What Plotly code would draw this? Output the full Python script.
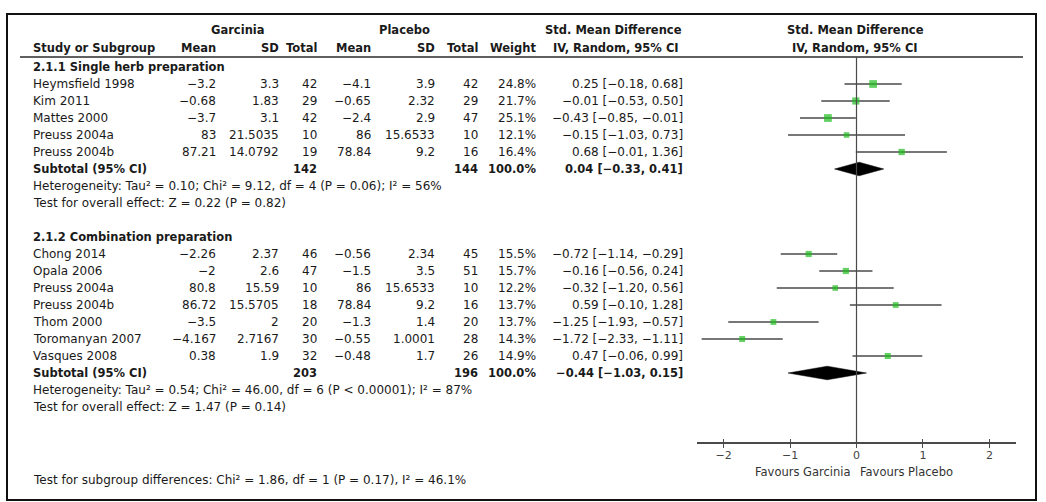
import plotly.graph_objects as go

W, H = 1046, 502

# ---------------- data ----------------
single_study = ["Heymsfield 1998", "Kim 2011", "Mattes 2000", "Preuss 2004a", "Preuss 2004b"]
single_g_mean = [-3.2, -0.68, -3.7, 83, 87.21]
single_g_sd = [3.3, 1.83, 3.1, 21.5035, 14.0792]
single_g_n = [42, 29, 42, 10, 19]
single_p_mean = [-4.1, -0.65, -2.4, 86, 78.84]
single_p_sd = [3.9, 2.32, 2.9, 15.6533, 9.2]
single_p_n = [42, 29, 47, 10, 16]
single_weight = [24.8, 21.7, 25.1, 12.1, 16.4]
single_smd = [0.25, -0.01, -0.43, -0.15, 0.68]
single_lo = [-0.18, -0.53, -0.85, -1.03, -0.01]
single_hi = [0.68, 0.50, -0.01, 0.73, 1.36]
single_sub = {"g_n": 142, "p_n": 144, "smd": 0.04, "lo": -0.33, "hi": 0.41}
single_het = "Heterogeneity: Tau² = 0.10; Chi² = 9.12, df = 4 (P = 0.06); I² = 56%"
single_test = "Test for overall effect: Z = 0.22 (P = 0.82)"

combo_study = ["Chong 2014", "Opala 2006", "Preuss 2004a", "Preuss 2004b", "Thom 2000",
               "Toromanyan 2007", "Vasques 2008"]
combo_g_mean = [-2.26, -2, 80.8, 86.72, -3.5, -4.167, 0.38]
combo_g_sd = [2.37, 2.6, 15.59, 15.5705, 2, 2.7167, 1.9]
combo_g_n = [46, 47, 10, 18, 20, 30, 32]
combo_p_mean = [-0.56, -1.5, 86, 78.84, -1.3, -0.55, -0.48]
combo_p_sd = [2.34, 3.5, 15.6533, 9.2, 1.4, 1.0001, 1.7]
combo_p_n = [45, 51, 10, 16, 20, 28, 26]
combo_weight = [15.5, 15.7, 12.2, 13.7, 13.7, 14.3, 14.9]
combo_smd = [-0.72, -0.16, -0.32, 0.59, -1.25, -1.72, 0.47]
combo_lo = [-1.14, -0.56, -1.20, -0.10, -1.93, -2.33, -0.06]
combo_hi = [-0.29, 0.24, 0.56, 1.28, -0.57, -1.11, 0.99]
combo_sub = {"g_n": 203, "p_n": 196, "smd": -0.44, "lo": -1.03, "hi": 0.15}
combo_het = "Heterogeneity: Tau² = 0.54; Chi² = 46.00, df = 6 (P < 0.00001); I² = 87%"
combo_test = "Test for overall effect: Z = 1.47 (P = 0.14)"

subgroup_test = "Test for subgroup differences: Chi² = 1.86, df = 1 (P = 0.17), I² = 46.1%"

tick_vals = [-2, -1, 0, 1, 2]
fav_left = "Favours Garcinia"
fav_right = "Favours Placebo"

# ---------------- layout helpers ----------------
FONT = "DejaVu Sans"
TXT = "#1a1a1a"
GREEN = "#1fbe1f"
LINE = "#4a4a4a"
REG = 12
BOLD = 11.5

ROW_TOP_PX = 67.0      # pixel centre of row 0
ROW_PITCH = 17.0
y_top = -ROW_TOP_PX / ROW_PITCH
y_bot = (H - ROW_TOP_PX) / ROW_PITCH


def px_row(py):
    return (py - ROW_TOP_PX) / ROW_PITCH


def fmt(v):
    return str(v).replace("-", "−")


def f2(v):
    return f"{v:.2f}".replace("-", "−")


def ci_text(e, l, h):
    return f"{f2(e)} [{f2(l)}, {f2(h)}]"


annotations = []


def txt(xpx, row, s, anchor="right", bold=False, size=None, color=TXT):
    if size is None:
        size = BOLD if bold else REG
    annotations.append(dict(
        x=xpx / W, xref="paper", y=row, yref="y", text=f"<b>{s}</b>" if bold else s,
        showarrow=False, xanchor=anchor, yanchor="middle",
        font=dict(family=FONT, size=size, color=color)))


COL = {"g_mean": 218, "g_sd": 281, "g_n": 319, "p_mean": 373, "p_sd": 437,
       "p_n": 480, "w": 538, "ci": 685}
LEFT = 31

# headers
hr1, hr2 = px_row(30), px_row(48)
txt(238, hr1, "Garcinia", "center", True)
txt(404, hr1, "Placebo", "center", True)
txt(613, hr1, "Std. Mean Difference", "center", True)
txt(616, hr2, "IV, Random, 95% CI", "center", True)
txt(855, hr1, "Std. Mean Difference", "center", True)
txt(855, hr2, "IV, Random, 95% CI", "center", True)
txt(LEFT, hr2, "Study or Subgroup", "left", True)
for key, lab in [("g_mean", "Mean"), ("g_sd", "SD"), ("g_n", "Total"), ("p_mean", "Mean"),
                 ("p_sd", "SD"), ("p_n", "Total"), ("w", "Weight")]:
    txt(COL[key], hr2, lab, "right", True)


def group(start, title, study, gm, gs, gn, pm, ps, pn, w, e, lo, hi, sub, het, test):
    txt(LEFT, start, title, "left", True)
    rows = []
    for k in range(len(study)):
        r = start + 1 + k
        rows.append(r)
        txt(LEFT, r, study[k], "left")
        txt(COL["g_mean"], r, fmt(gm[k]))
        txt(COL["g_sd"], r, fmt(gs[k]))
        txt(COL["g_n"], r, fmt(gn[k]))
        txt(COL["p_mean"], r, fmt(pm[k]))
        txt(COL["p_sd"], r, fmt(ps[k]))
        txt(COL["p_n"], r, fmt(pn[k]))
        txt(COL["w"], r, f"{w[k]:.1f}%")
        txt(COL["ci"], r, ci_text(e[k], lo[k], hi[k]))
    rs = start + 1 + len(study)
    txt(LEFT, rs, "Subtotal (95% CI)", "left", True)
    txt(COL["g_n"], rs, fmt(sub["g_n"]), "right", True)
    txt(COL["p_n"], rs, fmt(sub["p_n"]), "right", True)
    txt(COL["w"], rs, "100.0%", "right", True)
    txt(COL["ci"], rs, ci_text(sub["smd"], sub["lo"], sub["hi"]), "right", True)
    txt(LEFT, rs + 1, het, "left")
    txt(LEFT, rs + 2, test, "left")

    # forest marks
    xs, ys = [], []
    for k in range(len(study)):
        xs += [lo[k], hi[k], None]
        ys += [rows[k], rows[k], None]
    traces = [
        go.Scatter(x=xs, y=ys, mode="lines", line=dict(color=LINE, width=1.5),
                   hoverinfo="skip", showlegend=False),
        go.Scatter(x=e, y=rows, mode="markers",
                   marker=dict(symbol="square", color=GREEN, size=[3.5 + 0.17 * v for v in w],
                               line=dict(width=0)),
                   showlegend=False),
        go.Scatter(x=[sub["lo"], sub["smd"], sub["hi"], sub["smd"], sub["lo"]],
                   y=[rs, rs - 0.4, rs, rs + 0.4, rs], mode="lines", fill="toself",
                   fillcolor="black", line=dict(color="black", width=0.5),
                   hoverinfo="skip", showlegend=False),
    ]
    return traces


fig = go.Figure()
for t in group(0, "2.1.1 Single herb preparation", single_study, single_g_mean, single_g_sd,
               single_g_n, single_p_mean, single_p_sd, single_p_n, single_weight,
               single_smd, single_lo, single_hi, single_sub, single_het, single_test):
    fig.add_trace(t)
for t in group(10, "2.1.2 Combination preparation", combo_study, combo_g_mean, combo_g_sd,
               combo_g_n, combo_p_mean, combo_p_sd, combo_p_n, combo_weight,
               combo_smd, combo_lo, combo_hi, combo_sub, combo_het, combo_test):
    fig.add_trace(t)

txt(LEFT, px_row(480), subgroup_test, "left")
fav_row = px_row(472)
txt(853, fav_row, fav_left, "right", size=11.5, color="#333")
txt(858, fav_row, fav_right, "left", size=11.5, color="#333")

axis_row = px_row(443)
head_row = px_row(57)
axis_pos = 1 - 443 / H
dom = [697 / W, 1016 / W]

shapes = [
    dict(type="line", xref="paper", yref="y", x0=20 / W, x1=1023 / W, y0=head_row, y1=head_row,
         line=dict(color="#606060", width=2)),
    dict(type="line", xref="x", yref="y", x0=0, x1=0, y0=head_row, y1=axis_row,
         line=dict(color=LINE, width=1.2)),
    dict(type="rect", xref="paper", yref="paper", x0=7 / W, x1=1036 / W, y0=1 - 500 / H,
         y1=1 - 14 / H, line=dict(color="#111", width=2)),
]

axis_common = dict(domain=dom, range=[-2.4, 2.4], anchor="free", position=axis_pos,
                   showgrid=False, zeroline=False, tickvals=tick_vals, ticklen=4,
                   tickcolor=LINE, tickwidth=1.2, fixedrange=True)

fig.update_layout(
    width=W, height=H, margin=dict(l=0, r=0, t=0, b=0),
    paper_bgcolor="white", plot_bgcolor="rgba(0,0,0,0)",
    xaxis=dict(**axis_common, showline=True, linecolor=LINE, linewidth=1.5, ticks="outside",
               ticklabelstandoff=-2,
               tickfont=dict(family=FONT, size=11, color="#444")),
    xaxis2=dict(**axis_common, overlaying="x", showline=False, ticks="inside",
                showticklabels=False),
    yaxis=dict(domain=[0, 1], range=[y_bot, y_top], visible=False, fixedrange=True),
    annotations=annotations, shapes=shapes, showlegend=False,
)
# invisible marker so the crossing-tick axis is drawn
fig.add_trace(go.Scatter(x=[0], y=[axis_row], xaxis="x2", mode="markers",
                         marker=dict(opacity=0), hoverinfo="skip", showlegend=False))

fig.write_html("out.html", config={"displayModeBar": False})
